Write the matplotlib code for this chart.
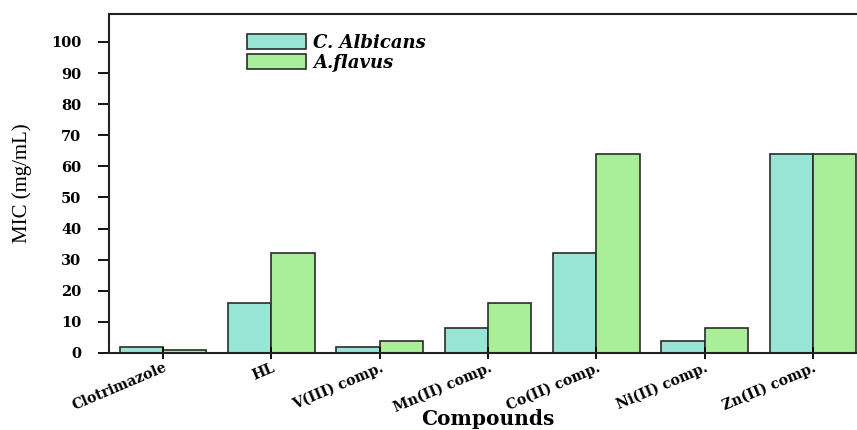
#!/usr/bin/env python

import matplotlib.pyplot as plt
import numpy as np

compounds = ["Clotrimazole", "HL", "V(III) comp.", "Mn(II) comp.",
             "Co(II) comp.", "Ni(II) comp.", "Zn(II) comp."]
c_albicans = [2, 16, 2, 8, 32, 4, 64]
a_flavus = [1, 32, 4, 16, 64, 8, 64]

fig = plt.figure(figsize=(8.57, 4.3), dpi=100)
ax = fig.add_axes([0.1272, 0.1791, 0.8845, 0.7884])

x = np.arange(len(compounds))
w = 0.4
ax.bar(x - w/2, c_albicans, w, color='#98E5D5', edgecolor='#2b2b2b', linewidth=1.2, label='C. Albicans')
ax.bar(x + w/2, a_flavus, w, color='#A9EE98', edgecolor='#2b2b2b', linewidth=1.2, label='A.flavus')

ax.set_xlim(-0.5, len(compounds) - 0.5)
ax.set_ylim(0, 109)
ax.set_yticks(np.arange(0, 101, 10))
ax.set_xticks(x)
ax.set_xticklabels(compounds, rotation=23, ha='right', rotation_mode='anchor',
                   fontfamily='DejaVu Serif', fontweight='bold', fontsize=10.2)
for lab in ax.get_yticklabels():
    lab.set_fontfamily('DejaVu Serif')
    lab.set_fontweight('bold')
    lab.set_fontsize(10.5)

ax.tick_params(axis='y', direction='out', length=8, width=1.3, pad=12)
ax.tick_params(axis='x', direction='inout', length=9, width=1.3, pad=1)

for s in ['left', 'bottom', 'top']:
    ax.spines[s].set_linewidth(1.5)
    ax.spines[s].set_color('#222222')
ax.spines['right'].set_visible(False)

ax.set_ylabel('MIC (mg/mL)', fontfamily='Liberation Serif', fontsize=15, labelpad=14)
ax.set_xlabel('Compounds', fontfamily='DejaVu Serif', fontweight='bold', fontsize=14.5, va='top')
ax.xaxis.set_label_coords(0.5, -0.166)

ax.legend(loc='upper left', bbox_to_anchor=(0.16, 0.99), frameon=False,
          prop={'family': 'DejaVu Serif', 'weight': 'bold', 'style': 'italic', 'size': 13},
          handlelength=3.3, handleheight=0.95, labelspacing=0.12, handletextpad=0.4)

plt.savefig('out.png')
